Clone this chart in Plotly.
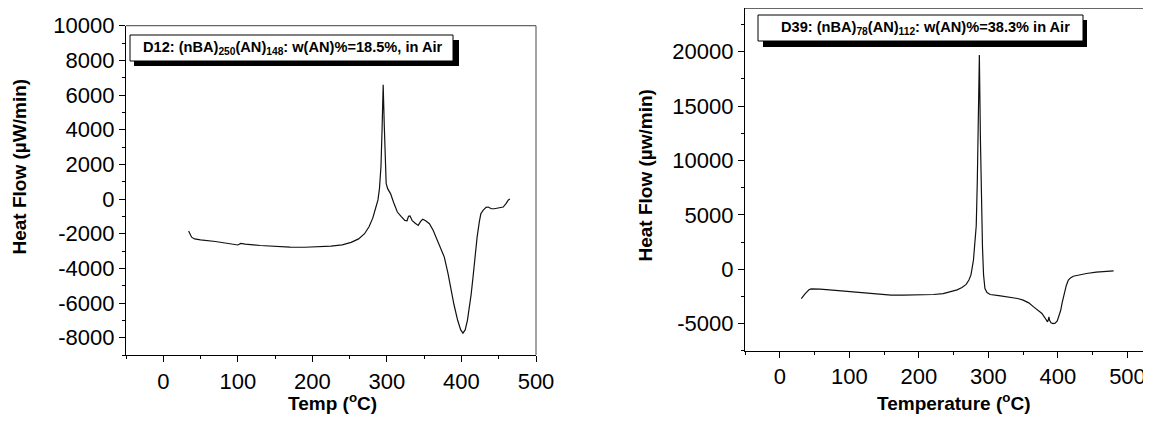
import plotly.graph_objects as go

# ---- data ----
t_d12 = [34, 36, 38, 42, 50, 70, 90, 98, 100, 104, 110, 130, 150, 170, 190, 210, 225, 240, 252, 262,
         270, 276, 281, 285, 288, 290, 292, 293.5, 295, 296.5, 298, 299, 301, 305, 309, 314, 319, 324,
         327, 329, 331, 334, 338, 342, 345, 348, 352, 357, 362, 368, 373, 377, 382, 386, 390, 395, 399,
         402, 405, 408, 410, 413, 415.5, 418, 421, 424, 426, 429, 433, 436, 440, 444, 449, 453, 456,
         460, 463, 465]
hf_d12 = [-1850, -2050, -2200, -2300, -2360, -2450, -2560, -2620, -2650, -2560, -2600, -2680, -2740,
          -2770, -2780, -2770, -2720, -2640, -2500, -2300, -2000, -1600, -1100, -500, -50, 600, 1850,
          4000, 6600, 4200, 2000, 900, 600, 300, -200, -750, -1000, -1230, -1250, -1000, -980, -1250,
          -1400, -1520, -1300, -1170, -1250, -1420, -1800, -2390, -2900, -3350, -4300, -5280, -6100,
          -7010, -7550, -7740, -7550, -7000, -6430, -5500, -4510, -3300, -2200, -1300, -850, -650,
          -480, -460, -560, -560, -520, -500, -460, -250, -50, 0]

t_d39 = [31, 33, 36, 39, 42, 45, 50, 58, 80, 106, 125, 140, 160, 178, 200, 221, 235, 245, 255, 262,
         268, 272, 275, 278.5, 281, 282.5, 284, 285.5, 287, 288.5, 290, 291.5, 293, 295, 298, 302.5,
         315, 331, 342, 350, 358, 365, 371, 377, 381, 385, 386, 387, 388, 390, 393, 396, 399, 401,
         404, 406, 409, 412, 415, 418, 422, 430, 441, 455, 468, 480]
hf_d39 = [-2700, -2500, -2300, -2090, -1900, -1810, -1800, -1840, -1950, -2090, -2230, -2330, -2380,
          -2390, -2370, -2330, -2250, -2090, -1900, -1690, -1400, -1000, -500, 830, 2500, 4000, 8000,
          14000, 19700, 12000, 6000, 2000, -500, -1780, -2150, -2330, -2430, -2550, -2700, -2850,
          -3100, -3470, -3750, -4080, -4450, -4850, -4700, -4390, -4700, -4940, -5000, -4970, -4760,
          -4400, -3780, -3100, -2240, -1500, -1010, -800, -650, -520, -400, -280, -200, -150]

x_ticks = [0, 100, 200, 300, 400, 500]
y_ticks_left = [-8000, -6000, -4000, -2000, 0, 2000, 4000, 6000, 8000, 10000]
y_ticks_right = [-5000, 0, 5000, 10000, 15000, 20000]

label_left = "D12: (nBA)<sub>250</sub>(AN)<sub>148</sub>: w(AN)%=18.5%, in Air"
label_right = "D39: (nBA)<sub>78</sub>(AN)<sub>112</sub>: w(AN)%=38.3% in Air"

W, H = 1151, 424
OFF = 8  # page body margin
FW, FH = W - OFF, H - 2 * OFF
FONT = "Liberation Sans, Arial, sans-serif"


def px(x):
    return (x - OFF) / FW


def py(y):
    return 1 - (y - OFF) / FH


fig = go.Figure()
fig.add_trace(go.Scatter(x=t_d12, y=hf_d12, mode="lines", line=dict(color="#111", width=1.2),
                         xaxis="x", yaxis="y", showlegend=False))
fig.add_trace(go.Scatter(x=t_d39, y=hf_d39, mode="lines", line=dict(color="#111", width=1.2),
                         xaxis="x2", yaxis="y2", showlegend=False))

axis_common = dict(showline=True, linecolor="black", linewidth=1.3, ticks="outside", ticklen=6,
                   tickwidth=1.2, tickcolor="black", showgrid=False, zeroline=False,
                   automargin=False, ticklabeloverflow="allow",
                   tickfont=dict(family=FONT, size=22, color="black"), mirror=False)


def labels(vals):
    return [str(v) for v in vals]


fig.update_layout(
    width=FW, height=FH,
    margin=dict(l=0, r=0, t=0, b=0, autoexpand=False),
    paper_bgcolor="white", plot_bgcolor="white",
    xaxis=dict(domain=[px(126), px(536)], range=[-50, 500], anchor="y",
               tickvals=x_ticks, ticktext=labels(x_ticks),
               minor=dict(dtick=50, tick0=0, ticks="outside", ticklen=3, tickcolor="black"),
               **axis_common),
    yaxis=dict(domain=[py(355), py(25.7)], range=[-9000, 10005], anchor="x",
               tickvals=y_ticks_left, ticktext=labels(y_ticks_left),
               minor=dict(dtick=1000, tick0=0, ticks="outside", ticklen=3, tickcolor="black"),
               **axis_common),
    xaxis2=dict(domain=[px(745), 1.0], range=[-50, 533.8], anchor="y2",
                tickvals=x_ticks, ticktext=labels(x_ticks),
                minor=dict(dtick=50, tick0=0, ticks="outside", ticklen=3, tickcolor="black"),
                **axis_common),
    yaxis2=dict(domain=[py(350.7), py(8.3)], range=[-7500, 24000], anchor="x2",
                tickvals=y_ticks_right, ticktext=labels(y_ticks_right),
                minor=dict(dtick=2500, tick0=0, ticks="outside", ticklen=3, tickcolor="black"),
                **axis_common),
)

shapes = []
# frame lines (top/right of left panel, top of right panel)
shapes.append(dict(type="line", xref="x domain", yref="y domain", x0=0, x1=1, y0=1, y1=1,
                   line=dict(color="#666", width=1.2)))
shapes.append(dict(type="line", xref="x domain", yref="y domain", x0=1, x1=1, y0=0, y1=1,
                   line=dict(color="#666", width=1.2)))
shapes.append(dict(type="line", xref="x2 domain", yref="y2 domain", x0=0, x1=1, y0=1, y1=1,
                   line=dict(color="#666", width=1.2)))
# label boxes with drop shadow
for (x0, y0, x1, y1), (sx0, sy0, sx1, sy1) in [((130, 35, 453, 61), (134, 40, 459, 66)),
                                              ((758, 15, 1083, 41), (763, 20, 1087, 47))]:
    shapes.append(dict(type="rect", xref="paper", yref="paper", x0=px(sx0), x1=px(sx1),
                       y0=py(sy1), y1=py(sy0), fillcolor="black", line=dict(width=0)))
    shapes.append(dict(type="rect", xref="paper", yref="paper", x0=px(x0), x1=px(x1),
                       y0=py(y1), y1=py(y0), fillcolor="white", line=dict(color="black", width=1)))
fig.update_layout(shapes=shapes)

ann = []
ann.append(dict(text="<b>" + label_left + "</b>", x=px(292.5), y=py(48), xref="paper", yref="paper",
                showarrow=False, xanchor="center", yanchor="middle",
                font=dict(family=FONT, size=14.6, color="black")))
ann.append(dict(text="<b>" + label_right + "</b>", x=px(925), y=py(28), xref="paper", yref="paper",
                showarrow=False, xanchor="center", yanchor="middle",
                font=dict(family=FONT, size=14.6, color="black")))
# axis titles
ann.append(dict(text="<b>Heat Flow (µW/min)</b>", x=px(19.5), y=py(167), xref="paper", yref="paper",
                showarrow=False, textangle=-90, xanchor="center", yanchor="middle",
                font=dict(family=FONT, size=19, color="black")))
ann.append(dict(text="<b>Temp (<sup>o</sup>C)</b>", x=px(332), y=py(416), xref="paper", yref="paper",
                showarrow=False, xanchor="center", yanchor="bottom",
                font=dict(family=FONT, size=19, color="black")))
ann.append(dict(text="<b>Heat Flow (µw/min)</b>", x=px(645), y=py(175.5), xref="paper", yref="paper",
                showarrow=False, textangle=-90, xanchor="center", yanchor="middle",
                font=dict(family=FONT, size=19, color="black")))
ann.append(dict(text="<b>Temperature (<sup>o</sup>C)</b>", x=px(953.7), y=py(416), xref="paper",
                yref="paper", showarrow=False, xanchor="center", yanchor="bottom",
                font=dict(family=FONT, size=19, color="black")))
fig.update_layout(annotations=ann)

fig.write_html("out.html")
